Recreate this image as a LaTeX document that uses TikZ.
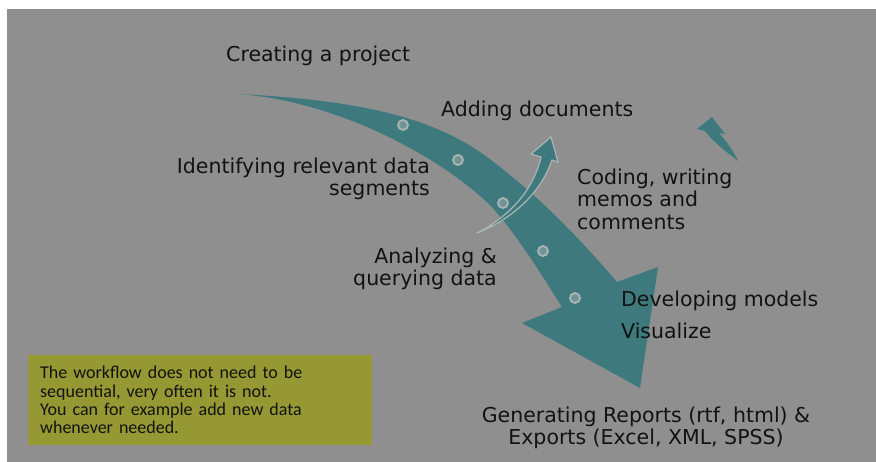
\documentclass[tikz,border=0pt]{standalone}
\usepackage{fontspec}
\setmainfont{DejaVu Sans}
\newfontfamily\notefont{Carlito}
\definecolor{slidegray}{RGB}{143,143,143}
\definecolor{flowteal}{RGB}{62,121,125}
\definecolor{dotring}{RGB}{172,181,181}
\definecolor{dotfill}{RGB}{112,148,150}
\definecolor{noteyellow}{RGB}{150,152,52}
\definecolor{ink}{RGB}{18,18,18}

\begin{document}
\begin{tikzpicture}[x=1pt, y=-1pt,
  lbl/.style={font=\fontsize{20.5}{22.5}\selectfont, text=ink, inner sep=0pt},
  note/.style={fill=noteyellow, font=\notefont\fontsize{18}{18.3}\selectfont, text=ink, text width=320pt, align=left, inner xsep=12pt, minimum height=90pt},
  flow/.style={fill=flowteal},
  cue/.style={fill=flowteal},
  dot/.style={circle, fill=dotfill, draw=dotring, line width=1.8pt, minimum size=10pt, inner sep=0pt}
]
\useasboundingbox (0,0) rectangle (876,462);
\fill[white] (0,0) rectangle (876,462);
\fill[slidegray] (7,9) rectangle (876,462);

% main arrow
\fill[flow] (238,94) .. controls (360,100) and (430,118) .. (480,152)
  .. controls (540,195) and (585,245) .. (617,282) -- (658,267) -- (640,388)
  -- (522,323) -- (562,307) .. controls (540,272) and (515,232) .. (490,205)
  .. controls (455,172) and (410,145) .. (360,124)
  .. controls (320,108) and (280,97) .. (238,94) -- cycle;

\node[dot] (d1) at (403,125) {};
\node[dot] (d2) at (458,160) {};
\node[dot] (d3) at (503,203) {};
\node[dot] (d4) at (543,251) {};
\node[dot] (d5) at (575,298) {};

% small return arrows
\filldraw[cue, draw=dotring, line width=1.2pt] (477,233) .. controls (508,217) and (533,192) .. (541,157)
  -- (531,154) -- (551,137) -- (558,162) -- (552,160)
  .. controls (540,195) and (510,220) .. (477,233) -- cycle;
\fill[cue] (738,161) .. controls (728,153) and (714,143) .. (705,131)
  -- (697,129) -- (712,117) -- (725,134) -- (719,133)
  .. controls (728,143) and (734,152) .. (738,161) -- cycle;

\node[lbl, anchor=base west] (create) at (226,62) {Creating a project};
\node[lbl, anchor=base west] (adddocs) at (441,117) {Adding documents};
\node[lbl, align=right, anchor=north east] (identify) at (430,157.5) {Identifying relevant data\\segments};
\node[lbl, align=left, anchor=north west] (coding) at (577,168.5) {Coding, writing\\memos and\\comments};
\node[lbl, align=right, anchor=north east] (analyze) at (497,247.5) {Analyzing \&\\querying data};
\node[lbl, anchor=base west] (models) at (621,307) {Developing models};
\node[lbl, anchor=base west] (visualize) at (621,339) {Visualize};
\node[lbl, align=center, anchor=north] (reports) at (646,406.5) {Generating Reports (rtf, html) \&\\Exports (Excel, XML, SPSS)};
\node[note, anchor=north west] (workflow) at (28,355) {The workflow does not need to be\\sequential, very often it is not.\\You can for example add new data\\whenever needed.};
\end{tikzpicture}
\end{document}
